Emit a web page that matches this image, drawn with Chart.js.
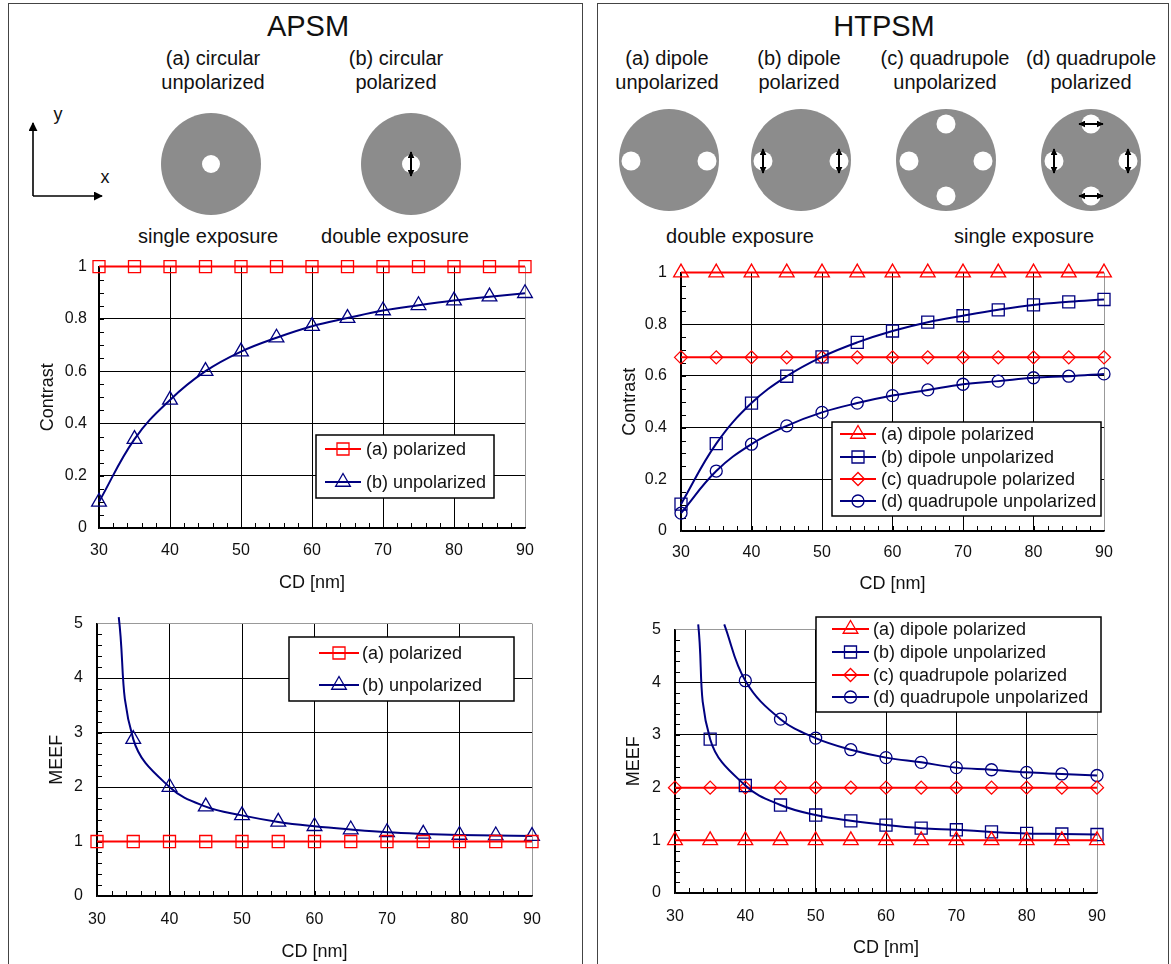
<!DOCTYPE html>
<html>
<head>
<meta charset="utf-8">
<script src="https://cdn.jsdelivr.net/npm/chart.js@4.4.1/dist/chart.umd.min.js"></script>
<style>
  body { margin: 0; background: #fff; width: 1171px; height: 964px; position: relative; overflow: hidden;
         font-family: "Liberation Sans", Arial, sans-serif; color: #111; }
  .panel { position: absolute; border: 1.5px solid #444; box-sizing: border-box; }
  .lbl { position: absolute; transform: translate(-50%, -50%); white-space: nowrap; text-align: center;
         font-size: 20px; line-height: 24px; }
  .title { font-size: 29px; line-height: 32px; }
  canvas { position: absolute; }
  svg { position: absolute; left: 0; top: 0; }
</style>
</head>
<body>
<div class="panel" style="left:8px;top:3px;width:575px;height:990px;"></div>
<div class="panel" style="left:597px;top:3px;width:572px;height:990px;"></div>

<svg width="1171" height="250">
  <defs>
    <marker id="ah" viewBox="0 0 10 10" refX="9" refY="5" markerWidth="9" markerHeight="9" markerUnits="userSpaceOnUse" orient="auto-start-reverse">
      <path d="M0,0 L10,5 L0,10 z" fill="#000"/>
    </marker>
    <marker id="sh" viewBox="0 0 10 10" refX="9" refY="5" markerWidth="7" markerHeight="7" markerUnits="userSpaceOnUse" orient="auto-start-reverse">
      <path d="M0,0 L10,5 L0,10 z" fill="#000"/>
    </marker>
  </defs>
  <!-- axes icon -->
  <line x1="33" y1="196" x2="33" y2="123" stroke="#000" stroke-width="1.6" marker-end="url(#ah)"/>
  <line x1="33" y1="196" x2="102" y2="196" stroke="#000" stroke-width="1.6" marker-end="url(#ah)"/>
  <!-- APSM pupils -->
  <ellipse cx="211" cy="164" rx="50" ry="51" fill="#8c8c8c"/>
  <circle cx="211" cy="164" r="9" fill="#fff"/>
  <ellipse cx="411" cy="164" rx="50" ry="51" fill="#8c8c8c"/>
  <circle cx="411" cy="164" r="9" fill="#fff"/>
  <line x1="411" y1="164" x2="411" y2="152" stroke="#000" stroke-width="2" marker-end="url(#sh)"/>
  <line x1="411" y1="164" x2="411" y2="176" stroke="#000" stroke-width="2" marker-end="url(#sh)"/>
  <!-- HTPSM pupils -->
  <ellipse cx="669" cy="160" rx="50" ry="51" fill="#8c8c8c"/>
  <circle cx="631" cy="161" r="9.5" fill="#fff"/>
  <circle cx="707" cy="161" r="9.5" fill="#fff"/>
  <ellipse cx="801" cy="160" rx="50" ry="51" fill="#8c8c8c"/>
  <circle cx="763" cy="161" r="9.5" fill="#fff"/>
  <circle cx="839" cy="161" r="9.5" fill="#fff"/>
  <g stroke="#000" stroke-width="2">
    <line x1="763" y1="161" x2="763" y2="149" marker-end="url(#sh)"/>
    <line x1="763" y1="161" x2="763" y2="173" marker-end="url(#sh)"/>
    <line x1="839" y1="161" x2="839" y2="149" marker-end="url(#sh)"/>
    <line x1="839" y1="161" x2="839" y2="173" marker-end="url(#sh)"/>
  </g>
  <ellipse cx="946" cy="160" rx="50" ry="51" fill="#8c8c8c"/>
  <circle cx="909" cy="161" r="9.5" fill="#fff"/>
  <circle cx="983" cy="161" r="9.5" fill="#fff"/>
  <circle cx="946" cy="124" r="9.5" fill="#fff"/>
  <circle cx="946" cy="196" r="9.5" fill="#fff"/>
  <ellipse cx="1091" cy="160" rx="50" ry="51" fill="#8c8c8c"/>
  <circle cx="1054" cy="161" r="9.5" fill="#fff"/>
  <circle cx="1128" cy="161" r="9.5" fill="#fff"/>
  <circle cx="1091" cy="124" r="9.5" fill="#fff"/>
  <circle cx="1091" cy="196" r="9.5" fill="#fff"/>
  <g stroke="#000" stroke-width="2">
    <line x1="1054" y1="161" x2="1054" y2="149" marker-end="url(#sh)"/>
    <line x1="1054" y1="161" x2="1054" y2="173" marker-end="url(#sh)"/>
    <line x1="1128" y1="161" x2="1128" y2="149" marker-end="url(#sh)"/>
    <line x1="1128" y1="161" x2="1128" y2="173" marker-end="url(#sh)"/>
    <line x1="1091" y1="124" x2="1079" y2="124" marker-end="url(#sh)"/>
    <line x1="1091" y1="124" x2="1103" y2="124" marker-end="url(#sh)"/>
    <line x1="1091" y1="196" x2="1079" y2="196" marker-end="url(#sh)"/>
    <line x1="1091" y1="196" x2="1103" y2="196" marker-end="url(#sh)"/>
  </g>
</svg>

<div class="lbl title" style="left:308px;top:26px;">APSM</div>
<div class="lbl title" style="left:884px;top:26px;">HTPSM</div>
<div class="lbl" style="left:213px;top:70px;">(a) circular<br>unpolarized</div>
<div class="lbl" style="left:396px;top:70px;">(b) circular<br>polarized</div>
<div class="lbl" style="left:58px;top:114px;font-size:18px;">y</div>
<div class="lbl" style="left:105px;top:177px;font-size:18px;">x</div>
<div class="lbl" style="left:208px;top:236px;">single exposure</div>
<div class="lbl" style="left:395px;top:236px;">double exposure</div>
<div class="lbl" style="left:667px;top:70px;">(a) dipole<br>unpolarized</div>
<div class="lbl" style="left:799px;top:70px;">(b) dipole<br>polarized</div>
<div class="lbl" style="left:945px;top:70px;">(c) quadrupole<br>unpolarized</div>
<div class="lbl" style="left:1091px;top:70px;">(d) quadrupole<br>polarized</div>
<div class="lbl" style="left:740px;top:236px;">double exposure</div>
<div class="lbl" style="left:1024px;top:236px;">single exposure</div>

<canvas id="apsmContrast"></canvas>
<canvas id="apsmMeef"></canvas>
<canvas id="htpsmContrast"></canvas>
<canvas id="htpsmMeef"></canvas>

<script>
// ---- data ----
const cd = [30, 35, 40, 45, 50, 55, 60, 65, 70, 75, 80, 85, 90];

const apsmContrastPol = [1, 1, 1, 1, 1, 1, 1, 1, 1, 1, 1, 1, 1];
const apsmContrastUnpol = [0.10, 0.34, 0.49, 0.60, 0.675, 0.728, 0.772, 0.803, 0.832, 0.852, 0.870, 0.885, 0.898];

const apsmMeefPol = [1, 1, 1, 1, 1, 1, 1, 1, 1, 1, 1, 1, 1];
const apsmMeefUnpolCd = [33, 35, 40, 45, 50, 55, 60, 65, 70, 75, 80, 85, 90];
const apsmMeefUnpol = [5.12, 2.88, 2.0, 1.64, 1.48, 1.36, 1.28, 1.22, 1.17, 1.14, 1.12, 1.11, 1.10];

const htpsmContrastDipPol = [1, 1, 1, 1, 1, 1, 1, 1, 1, 1, 1, 1, 1];
const htpsmContrastDipUnpol = [0.104, 0.338, 0.495, 0.599, 0.674, 0.730, 0.774, 0.808, 0.833, 0.856, 0.875, 0.887, 0.896];
const htpsmContrastQuadPol = [0.672, 0.672, 0.672, 0.672, 0.672, 0.672, 0.672, 0.672, 0.672, 0.672, 0.672, 0.672, 0.672];
const htpsmContrastQuadUnpol = [0.069, 0.232, 0.336, 0.407, 0.459, 0.495, 0.524, 0.546, 0.568, 0.580, 0.593, 0.599, 0.608];

const htpsmMeefDipPol = [1, 1, 1, 1, 1, 1, 1, 1, 1, 1, 1, 1, 1];
const htpsmMeefDipUnpolCd = [33.3, 35, 40, 45, 50, 55, 60, 65, 70, 75, 80, 85, 90];
const htpsmMeefDipUnpol = [5.1, 2.92, 2.04, 1.67, 1.48, 1.37, 1.29, 1.23, 1.20, 1.16, 1.13, 1.12, 1.11];
const htpsmMeefQuadPol = [2, 2, 2, 2, 2, 2, 2, 2, 2, 2, 2, 2, 2];
const htpsmMeefQuadUnpolCd = [37, 40, 45, 50, 55, 60, 65, 70, 75, 80, 85, 90];
const htpsmMeefQuadUnpol = [5.1, 4.03, 3.30, 2.94, 2.72, 2.57, 2.48, 2.38, 2.34, 2.29, 2.26, 2.23];

const xTicks = [30, 40, 50, 60, 70, 80, 90];

const RED = "#ff0000";
const NAVY = "#000080";
const FONT = '"Liberation Sans", Arial, sans-serif';

Chart.defaults.font.family = FONT;
Chart.defaults.color = "#111";

// draws a marker the same way Chart.js does for its point styles
function drawMarker(ctx, style, r, x, y) {
  ctx.beginPath();
  if (style === "rect") {
    const s = Math.SQRT1_2 * r;
    ctx.rect(x - s, y - s, 2 * s, 2 * s);
  } else if (style === "rectRot") {
    ctx.moveTo(x - r, y); ctx.lineTo(x, y - r); ctx.lineTo(x + r, y); ctx.lineTo(x, y + r); ctx.closePath();
  } else if (style === "triangle") {
    ctx.moveTo(x, y - r);
    ctx.lineTo(x + r * Math.sin(Math.PI / 3), y + r / 2);
    ctx.lineTo(x - r * Math.sin(Math.PI / 3), y + r / 2);
    ctx.closePath();
  } else {
    ctx.arc(x, y, r, 0, Math.PI * 2);
  }
  ctx.stroke();
}

// legend box drawn inside the plot, excel style
const boxLegend = {
  id: "boxLegend",
  afterDraw(chart, args, opts) {
    const ctx = chart.ctx;
    const ox = opts.ox, oy = opts.oy;
    const [x0, y0, x1, y1] = opts.box;
    ctx.save();
    ctx.fillStyle = "#fff";
    ctx.fillRect(x0 - ox, y0 - oy, x1 - x0, y1 - y0);
    ctx.strokeStyle = "#000";
    ctx.lineWidth = 1.5;
    ctx.strokeRect(x0 - ox, y0 - oy, x1 - x0, y1 - y0);
    chart.data.datasets.forEach((ds, i) => {
      const y = opts.rows[i] - oy;
      ctx.strokeStyle = ds.borderColor;
      ctx.lineWidth = 2;
      ctx.beginPath();
      ctx.moveTo(opts.sx0 - ox, y);
      ctx.lineTo(opts.sx1 - ox, y);
      ctx.stroke();
      ctx.lineWidth = 1.3;
      drawMarker(ctx, ds.pointStyle, ds.markerSize, (opts.sx0 + opts.sx1) / 2 - ox, y);
      ctx.fillStyle = "#111";
      ctx.font = "18px " + FONT;
      ctx.textBaseline = "middle";
      ctx.textAlign = "left";
      ctx.fillText(ds.label, opts.tx - ox, y + 1);
    });
    ctx.restore();
  }
};

// small inward ticks on the left and bottom axes
const minorTicks = {
  id: "minorTicks",
  beforeDatasetsDraw(chart, args, opts) {
    const { ctx, chartArea } = chart;
    const xs = chart.scales.x, ys = chart.scales.y;
    ctx.save();
    ctx.strokeStyle = "#000";
    ctx.lineWidth = 1;
    const nx = Math.round((xs.max - xs.min) / opts.x);
    for (let i = 1; i < nx; i++) {
      const px = Math.round(xs.getPixelForValue(xs.min + i * opts.x)) + 0.5;
      ctx.beginPath();
      ctx.moveTo(px, chartArea.bottom);
      ctx.lineTo(px, chartArea.bottom - 5);
      ctx.stroke();
    }
    const ny = Math.round((ys.max - ys.min) / opts.y);
    for (let i = 1; i < ny; i++) {
      const py = Math.round(ys.getPixelForValue(ys.min + i * opts.y)) + 0.5;
      ctx.beginPath();
      ctx.moveTo(chartArea.left, py);
      ctx.lineTo(chartArea.left + 5, py);
      ctx.stroke();
    }
    ctx.restore();
  }
};

function series(label, xs, ys, color, style, size, hideFirst) {
  return {
    label: label,
    data: xs.map((x, i) => ({ x: x, y: ys[i] })),
    borderColor: color,
    borderWidth: 2,
    pointStyle: style,
    pointRadius: hideFirst ? xs.map((x, i) => (i === 0 ? 0 : size)) : size,
    markerSize: size,
    pointBorderColor: color,
    pointBackgroundColor: "rgba(0,0,0,0)",
    pointBorderWidth: 1.3,
    tension: 0.4,
    clip: false
  };
}

function makeChart(id, g, datasets, y, legend) {
  const canvas = document.getElementById(id);
  const w = g.right - g.left;
  const h = g.xTitleY + 14 - g.top;
  canvas.width = w;
  canvas.height = h;
  canvas.style.left = g.left + "px";
  canvas.style.top = g.top + "px";
  const yWidth = g.plot[0] - g.left;
  const xHeight = g.top + h - g.plot[3];

  new Chart(canvas.getContext("2d"), {
    type: "line",
    data: { datasets: datasets },
    plugins: [minorTicks, boxLegend],
    options: {
      responsive: false,
      animation: false,
      events: [],
      layout: { padding: { left: 0, top: g.plot[1] - g.top, right: g.right - g.plot[2], bottom: 0 } },
      plugins: {
        legend: { display: false },
        tooltip: { enabled: false },
        minorTicks: { x: 2, y: y.minor },
        boxLegend: Object.assign({ ox: g.left, oy: g.top }, legend)
      },
      scales: {
        x: {
          type: "linear",
          min: 30,
          max: 90,
          afterBuildTicks: (s) => { s.ticks = xTicks.map((v) => ({ value: v })); },
          afterFit: (s) => { s.height = xHeight; },
          grid: {
            drawTicks: false,
            color: (c) => (c.tick && c.tick.value === 90 ? "#999" : "#000"),
            lineWidth: 1
          },
          border: { color: "#000", width: 1.5 },
          ticks: { font: { size: 16 }, color: "#111", padding: g.xLabelY - g.plot[3] - 9.6, maxRotation: 0, autoSkip: false },
          title: { display: true, text: "CD [nm]", font: { size: 18 }, color: "#111", padding: { top: 0, bottom: 3 } }
        },
        y: {
          min: 0,
          max: y.max,
          afterBuildTicks: (s) => { s.ticks = y.ticks.map((v) => ({ value: v })); },
          afterFit: (s) => { s.width = yWidth; },
          grid: {
            drawTicks: false,
            color: (c) => (c.tick && c.tick.value === y.max ? "#999" : "#000"),
            lineWidth: 1
          },
          border: { color: "#000", width: 1.5 },
          ticks: { font: { size: 16 }, color: "#111", padding: g.yTickPad, callback: (v) => String(Math.round(v * 10) / 10) },
          title: { display: true, text: y.title, font: { size: 18 }, color: "#111", padding: { top: g.yTitleX - g.left - 10.8, bottom: 0 } }
        }
      }
    }
  });
}

const contrastTicks = [0, 0.2, 0.4, 0.6, 0.8, 1];
const meefTicks = [0, 1, 2, 3, 4, 5];

makeChart("apsmContrast",
  { left: 12, top: 245, right: 560, plot: [99, 261, 525, 528], yTitleX: 48, xTitleY: 583, xLabelY: 551, yTickPad: 12 },
  [
    series("(a) polarized", cd, apsmContrastPol, RED, "rect", 8.5),
    series("(b) unpolarized", cd, apsmContrastUnpol, NAVY, "triangle", 8.5)
  ],
  { max: 1, ticks: contrastTicks, minor: 0.05, title: "Contrast" },
  { box: [316, 435, 494, 498], rows: [449, 482], sx0: 325, sx1: 361, tx: 366 }
);

makeChart("apsmMeef",
  { left: 12, top: 600, right: 565, plot: [97, 617, 532, 896], yTitleX: 57, xTitleY: 952, xLabelY: 920, yTickPad: 14 },
  [
    series("(a) polarized", cd, apsmMeefPol, RED, "rect", 8.5),
    series("(b) unpolarized", apsmMeefUnpolCd, apsmMeefUnpol, NAVY, "triangle", 8.5, true)
  ],
  { max: 5, ticks: meefTicks, minor: 0.2, title: "MEEF" },
  { box: [289, 637, 514, 701], rows: [653, 685], sx0: 319, sx1: 359, tx: 362 }
);

makeChart("htpsmContrast",
  { left: 600, top: 249, right: 1140, plot: [681, 265, 1104, 531], yTitleX: 630, xTitleY: 584, xLabelY: 553, yTickPad: 14 },
  [
    series("(a) dipole polarized", cd, htpsmContrastDipPol, RED, "triangle", 8.5),
    series("(b) dipole unpolarized", cd, htpsmContrastDipUnpol, NAVY, "rect", 8.5),
    series("(c) quadrupole polarized", cd, htpsmContrastQuadPol, RED, "rectRot", 6.5),
    series("(d) quadrupole unpolarized", cd, htpsmContrastQuadUnpol, NAVY, "circle", 6)
  ],
  { max: 1, ticks: contrastTicks, minor: 0.05, title: "Contrast" },
  { box: [832, 422, 1101, 516], rows: [434, 457, 479, 501], sx0: 840, sx1: 876, tx: 881 }
);

makeChart("htpsmMeef",
  { left: 600, top: 606, right: 1140, plot: [675, 622, 1097, 893], yTitleX: 634, xTitleY: 948, xLabelY: 917, yTickPad: 14 },
  [
    series("(a) dipole polarized", cd, htpsmMeefDipPol, RED, "triangle", 8.5),
    series("(b) dipole unpolarized", htpsmMeefDipUnpolCd, htpsmMeefDipUnpol, NAVY, "rect", 8.5, true),
    series("(c) quadrupole polarized", cd, htpsmMeefQuadPol, RED, "rectRot", 6.5),
    series("(d) quadrupole unpolarized", htpsmMeefQuadUnpolCd, htpsmMeefQuadUnpol, NAVY, "circle", 6, true)
  ],
  { max: 5, ticks: meefTicks, minor: 0.2, title: "MEEF" },
  { box: [816, 617, 1101, 712], rows: [629, 652, 675, 697], sx0: 832, sx1: 869, tx: 873 }
);
</script>
</body>
</html>
